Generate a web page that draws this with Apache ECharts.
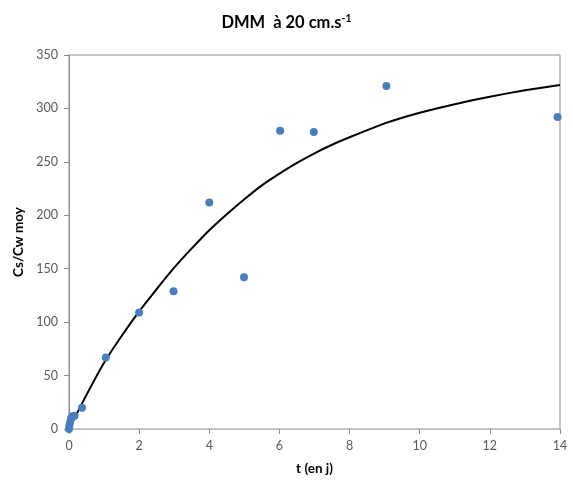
<!DOCTYPE html>
<html><head><meta charset="utf-8">
<script src="https://cdn.jsdelivr.net/npm/echarts@6/dist/echarts.min.js"></script>
<style>html,body{margin:0;padding:0;background:#fff}#c{width:573px;height:487px}</style>
</head><body><div id="c"></div>
<script>
var tDays = [0, 0.01, 0.03, 0.06, 0.1, 0.16, 0.37, 1.05, 2.0, 2.98, 4.0, 4.99, 6.02, 6.98, 9.05, 13.93];
var csCw  = [0, 3, 6, 10, 12, 12.5, 20, 67, 109, 129, 212, 142, 279, 278, 321, 292];
var fitT  = [0, 0.5, 1, 1.5, 2, 2.5, 3, 3.5, 4, 4.5, 5, 5.5, 6, 6.5, 7, 7.5, 8, 9, 10, 11, 12, 13, 14];
var fitY  = [0, 32, 62, 87, 110, 131, 151, 169, 186, 201, 215, 228, 239, 249, 258, 266, 273, 286, 296, 304, 311, 317, 322];
var xTicks = [0, 2, 4, 6, 8, 10, 12, 14];
var yTicks = [0, 50, 100, 150, 200, 250, 300, 350];

var font = 'Lato, "Open Sans", sans-serif';
var chart = echarts.init(document.getElementById('c'), null, {renderer: 'canvas'});
chart.setOption({
  animation: false,
  title: {
    text: '{t|DMM  à 20 cm.s}{s|-1}',
    left: 'center', top: 8,
    textStyle: {
      rich: {
        t: {fontFamily: font, fontWeight: 'bold', fontSize: 16.5, color: '#000'},
        s: {fontFamily: font, fontWeight: 'bold', fontSize: 10.5, color: '#000', verticalAlign: 'top', padding: [0,0,9,0]}
      }
    }
  },
  grid: {left: 69, right: 13, top: 55, bottom: 58, show: true, borderColor: '#8c8c8c', borderWidth: 1},
  xAxis: {
    type: 'value', min: xTicks[0], max: xTicks[xTicks.length-1], interval: 2,
    name: 't (en j)', nameLocation: 'middle', nameGap: 33,
    nameTextStyle: {fontFamily: font, fontWeight: 'bold', fontSize: 13.5, color: '#000'},
    axisLine: {show: true, lineStyle: {color: '#bfbfbf'}},
    axisTick: {show: true, length: 5, lineStyle: {color: '#8c8c8c'}},
    axisLabel: {fontFamily: font, fontSize: 12.5, color: '#595959', margin: 10},
    splitLine: {show: false}
  },
  yAxis: {
    type: 'value', min: yTicks[0], max: yTicks[yTicks.length-1], interval: 50,
    name: 'Cs/Cw moy', nameLocation: 'middle', nameGap: 42, nameRotate: 90,
    nameTextStyle: {fontFamily: font, fontWeight: 'bold', fontSize: 13.5, color: '#000'},
    axisLine: {show: true, lineStyle: {color: '#8c8c8c'}},
    axisTick: {show: true, length: 5, lineStyle: {color: '#8c8c8c'}},
    axisLabel: {fontFamily: font, fontSize: 12.5, color: '#595959', margin: 11},
    splitLine: {show: false}
  },
  series: [
    {
      type: 'line', data: fitT.map(function(t, i){ return [t, fitY[i]]; }),
      smooth: 0.2, showSymbol: false, symbol: 'none',
      lineStyle: {color: '#000', width: 2}, z: 2
    },
    {
      type: 'scatter', data: tDays.map(function(t, i){ return [t, csCw[i]]; }),
      symbol: 'circle', symbolSize: 8,
      itemStyle: {color: '#4a7ebb', opacity: 1}, z: 3
    }
  ]
});
</script></body></html>
